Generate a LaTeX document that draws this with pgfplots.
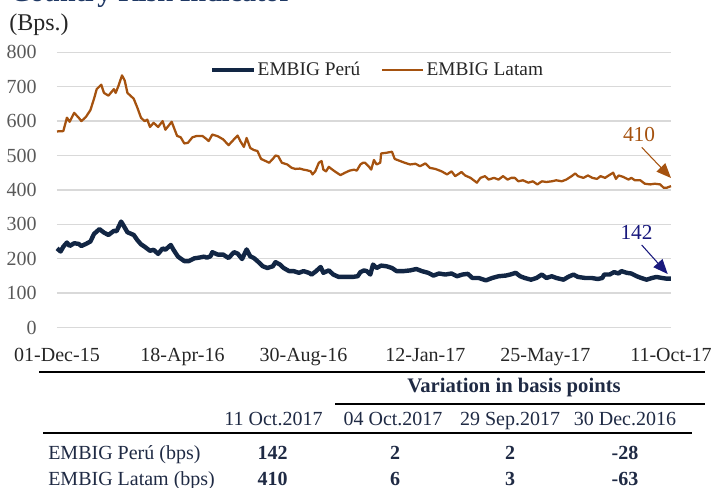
\documentclass[border=0pt]{standalone}
\usepackage{fontspec}
\setmainfont{Liberation Serif}
\usepackage{pgfplots}
\pgfplotsset{compat=1.18}
\usetikzlibrary{arrows.meta}
\definecolor{latam}{RGB}{165,82,15}
\definecolor{peru}{RGB}{18,38,68}
\definecolor{navytxt}{RGB}{31,42,68}
\definecolor{annblue}{RGB}{25,25,125}
\definecolor{gridgray}{RGB}{217,217,217}
\definecolor{ticklab}{RGB}{89,89,89}
\definecolor{titlec}{RGB}{31,56,100}
\begin{document}
\begin{tikzpicture}
\begin{axis}[
  at={(42.75pt,-245.625pt)}, anchor=south west,
  scale only axis, width=460.5pt, height=206.4pt,
  xmin=0, xmax=680, ymin=0, ymax=800,
  clip=false,
  axis line style={draw=none},
  tick style={draw=none},
  ytick={0,100,...,800},
  ymajorgrids, grid style={gridgray, line width=1.1pt},
  xtick={0,139,273,408,541,680},
  xticklabels={01-Dec-15,18-Apr-16,30-Aug-16,12-Jan-17,25-May-17,11-Oct-17},
  /pgf/number format/assume math mode=true,
  yticklabel style={font=\fontsize{15}{18}\selectfont, text=ticklab, anchor=east, inner sep=0pt, xshift=-15pt},
  xticklabel style={font=\fontsize{15}{18}\selectfont, text=black!85, anchor=north, inner sep=0pt, yshift=-15.5pt},
  legend style={at={(0.522,0.936)}, anchor=center, draw=none, fill=none,
    font=\fontsize{14.5}{17}\selectfont, text=black!85, legend columns=2,
    /tikz/every even column/.append style={column sep=14pt}, nodes={inner sep=1.5pt}},
  legend image code/.code={\draw[#1] (0pt,0pt) -- (31pt,0pt);},
]
\addplot[peru, line width=3.3pt, line join=round] coordinates {
(0,230) (4,221) (7,235) (11,247) (14,237) (19,245) (24,243) (27,237) (32,243) (37,250)
(41,272) (47,286) (52,276) (57,269) (63,281) (66,280) (71,308) (74,295) (78,277) (85,269)
(89,254) (93,242) (97,235) (103,223) (107,226) (112,214) (117,230) (120,226) (126,240) (129,226)
(134,206) (141,193) (146,193) (152,201) (157,203) (163,206) (166,203) (170,207) (172,219) (178,212)
(184,212) (190,202) (196,219) (200,215) (205,199) (210,227) (214,207) (218,202) (222,193) (228,178)
(233,173) (239,178) (242,190) (247,183) (251,173) (257,164) (262,164) (268,159) (273,164) (279,159)
(282,154) (287,164) (292,176) (295,159) (301,166) (306,154) (312,147) (319,147) (327,147) (333,149)
(336,161) (340,166) (343,164) (347,154) (350,183) (354,173) (359,180) (365,178) (371,173) (376,164)
(384,164) (391,166) (398,170) (404,164) (411,159) (417,151) (423,157) (430,154) (437,157) (443,149)
(449,154) (455,156) (460,144) (467,144) (475,137) (482,144) (489,149) (497,151) (502,154) (508,159)
(513,149) (518,144) (525,139) (531,144) (537,154) (542,144) (548,149) (553,144) (561,139) (566,147)
(572,154) (577,147) (585,144) (592,144) (599,141) (604,144) (606,154) (612,154) (617,161) (622,157)
(625,164) (631,159) (636,157) (642,149) (647,144) (653,139) (659,144) (664,147) (670,144) (675,142)
(680,142)
};
\addlegendentry{EMBIG Perú}
\addplot[latam, line width=1.7pt, line join=round] coordinates {
(0,570) (7,571) (11,610) (14,598) (19,624) (24,610) (27,600) (32,612) (37,632) (41,665)
(44,693) (49,706) (52,682) (57,674) (63,693) (65,682) (68,702) (72,733) (75,718) (78,682)
(85,665) (89,639) (93,610) (97,600) (100,604) (103,583) (107,595) (112,583) (117,600) (120,575)
(127,598) (133,557) (137,553) (141,535) (145,537) (150,553) (155,557) (161,557) (165,549) (168,542)
(172,561) (178,556) (184,547) (190,530) (196,547) (200,558) (203,542) (207,525) (210,551) (214,522)
(218,516) (222,513) (226,490) (231,484) (235,479) (239,490) (242,500) (245,498) (249,479) (255,474)
(260,464) (264,461) (269,462) (273,459) (277,457) (281,454) (283,445) (286,454) (290,479) (293,484)
(295,459) (298,454) (301,467) (306,457) (311,448) (314,443) (319,450) (324,456) (329,459) (332,456)
(336,474) (339,479) (341,479) (345,469) (348,459) (351,487) (354,474) (358,479) (359,506) (365,508)
(371,511) (374,490) (380,484) (385,479) (391,474) (397,476) (402,469) (408,477) (413,464) (419,461)
(426,454) (432,445) (437,454) (441,440) (448,452) (452,442) (458,435) (465,421) (469,435) (474,440)
(478,430) (484,435) (489,430) (494,440) (499,430) (503,435) (507,435) (511,425) (516,428) (522,421)
(527,425) (532,416) (537,425) (542,423) (548,425) (553,428) (559,425) (564,430) (570,440) (574,448)
(577,440) (583,435) (588,442) (593,435) (598,432) (602,440) (607,435) (611,442) (616,450) (619,432)
(622,442) (627,438) (633,430) (636,435) (640,428) (646,428) (651,418) (657,416) (662,418) (668,416)
(672,406) (675,406) (680,411)
};
\addlegendentry{EMBIG Latam}
\end{axis}
\begin{scope}[x=0.75pt,y=-0.75pt]
% title (cut off at top) and unit label
\node[anchor=base west, inner sep=0pt, font=\fontsize{21}{24}\selectfont\bfseries, text=titlec] at (10,1) {Country Risk Indicator};
\node[anchor=west, inner sep=0pt, font=\fontsize{18}{21}\selectfont, text=black!85] at (9,25) {(Bps.)};
% annotations
\draw[latam, line width=0.8pt, -{Triangle[length=11pt,width=9pt]}] (641.7,147.3) -- (671,178);
\node[text=latam, inner sep=0pt, font=\fontsize{16}{19}\selectfont] at (639,134.5) {410};
\draw[annblue, line width=0.8pt, -{Triangle[length=11pt,width=9pt]}] (641.7,245) -- (667.7,274);
\node[text=annblue, inner sep=0pt, font=\fontsize{16}{19}\selectfont] at (636.5,232) {142};
% table
\tikzset{tab/.style={font=\fontsize{15}{18}\selectfont, text=navytxt, inner sep=0pt, text height=0.7em, text depth=0.2em, anchor=center}}
\draw[black, line width=1.7pt] (39,372) -- (705,372);
\node[tab, font=\fontsize{15.5}{18}\selectfont\bfseries] at (514,389) {Variation in basis points};
\draw[black, line width=1.3pt] (335,404) -- (705,404);
\node[tab] at (273.5,422) {11 Oct.2017};
\node[tab] at (393,422) {04 Oct.2017};
\node[tab] at (510,422) {29 Sep.2017};
\node[tab] at (625,422) {30 Dec.2016};
\draw[black, line width=1.7pt] (43,433.3) -- (692,433.3);
\node[tab, anchor=west] at (48,455.7) {EMBIG Perú (bps)};
\node[tab, font=\fontsize{15}{18}\selectfont\bfseries] at (272.5,455.7) {142};
\node[tab, font=\fontsize{15}{18}\selectfont\bfseries] at (395,455.7) {2};
\node[tab, font=\fontsize{15}{18}\selectfont\bfseries] at (510,455.7) {2};
\node[tab, font=\fontsize{15}{18}\selectfont\bfseries] at (625,455.7) {-28};
\node[tab, anchor=west] at (48,481.7) {EMBIG Latam (bps)};
\node[tab, font=\fontsize{15}{18}\selectfont\bfseries] at (272.5,481.7) {410};
\node[tab, font=\fontsize{15}{18}\selectfont\bfseries] at (395,481.7) {6};
\node[tab, font=\fontsize{15}{18}\selectfont\bfseries] at (510,481.7) {3};
\node[tab, font=\fontsize{15}{18}\selectfont\bfseries] at (625,481.7) {-63};
\pgfresetboundingbox
\path[use as bounding box] (0,0) rectangle (715,487);
\end{scope}
\end{tikzpicture}
\end{document}
